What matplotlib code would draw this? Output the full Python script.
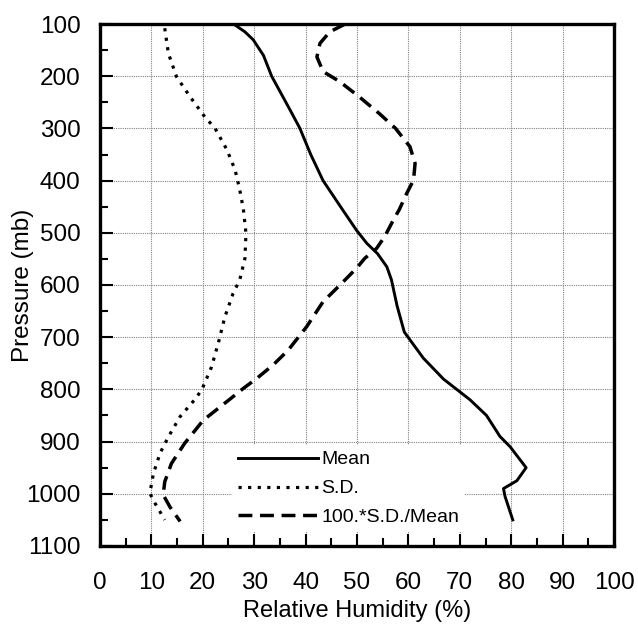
import numpy as np
import matplotlib
matplotlib.use("Agg")
import matplotlib.pyplot as plt
from matplotlib.ticker import MultipleLocator

plt.rcParams['font.family'] = ['Liberation Sans', 'DejaVu Sans']

# Mean relative humidity profile (pressure in mb, RH in %)
mean_p = [100, 115, 130, 160, 200, 265, 300, 350, 400, 450, 495, 520, 540, 565, 590,
          640, 690, 705, 740, 780, 820, 850, 890, 910, 950, 975, 990, 1005, 1050]
mean_rh = [26.0, 28.2, 29.8, 31.8, 33.4, 37.0, 38.9, 41.0, 43.4, 46.8, 49.9, 51.9, 54.0, 55.8, 56.7,
           57.8, 59.2, 60.3, 62.9, 66.8, 72.0, 75.2, 77.8, 79.8, 82.9, 81.1, 78.5, 78.8, 80.3]

# standard deviation
sd_p = [108, 156, 201, 239, 278, 300, 341, 380, 418, 455, 501, 549, 590, 616,
        661, 712, 757, 801, 820, 852, 891, 922, 961, 999, 1018, 1050]
sd_rh = [12.6, 13.3, 14.9, 17.5, 20.4, 22.4, 24.7, 26.3, 27.2, 27.9, 28.4, 28.2, 27.2, 25.9,
         24.3, 23.0, 21.7, 19.8, 18.4, 15.6, 13.3, 11.7, 10.4, 9.7, 10.7, 12.6]

# 100*S.D./Mean
cv_p = [100, 115, 137, 163, 191, 210, 240, 272, 300, 335, 367, 399, 424, 456,
        475, 507, 530, 549, 568, 600, 632, 680, 700, 725, 753, 779, 798, 817, 859,
        903, 942, 977, 1002, 1025, 1053]
cv_rh = [47.7, 44.7, 42.8, 42.2, 43.4, 46.6, 50.5, 54.4, 57.5, 60.3, 61.3, 61.0, 59.7, 58.2,
         57.1, 55.4, 53.8, 51.5, 49.9, 46.7, 43.4, 40.2, 38.6, 36.6, 33.7, 30.5, 27.9, 25.5, 20.1,
         16.5, 13.9, 12.6, 12.3, 13.6, 15.6]

fig = plt.figure(figsize=(6.38, 6.29), dpi=100)
ax = fig.add_axes([0.1567, 0.132, 0.8057, 0.8298])

ax.plot(mean_rh, mean_p, color='black', lw=2.1, ls='-', label='Mean', zorder=3)
ax.plot(sd_rh, sd_p, color='black', lw=2.3, ls=(0, (1.0, 2.0)), label='S.D.', zorder=3)
ax.plot(cv_rh, cv_p, color='black', lw=2.5, ls=(0, (4.0, 2.2)), label='100.*S.D./Mean', zorder=3)

ax.set_xlim(0, 100)
ax.set_ylim(1100, 100)
ax.xaxis.set_major_locator(MultipleLocator(10))
ax.xaxis.set_minor_locator(MultipleLocator(5))
ax.yaxis.set_major_locator(MultipleLocator(100))
ax.yaxis.set_minor_locator(MultipleLocator(50))

ax.grid(True, which='major', color='0.5', lw=0.8, ls=(0, (1, 1)), zorder=1)
ax.tick_params(which='both', direction='in', top=False, right=False, width=1.5, color='black')
ax.tick_params(which='major', length=9, labelsize=17.5)
ax.tick_params(which='minor', length=6)
ax.tick_params(axis='x', which='major', pad=19)
ax.tick_params(axis='y', which='major', pad=14)

for s in ax.spines.values():
    s.set_linewidth(2.4)

ax.set_xlabel('Relative Humidity (%)', fontsize=17, labelpad=4)
ax.set_ylabel('Pressure (mb)', fontsize=17.5)
ax.yaxis.set_label_coords(-0.128, 0.5)

leg = ax.legend(loc='upper left', bbox_to_anchor=(0.257, 0.1935), fontsize=14,
                frameon=True, framealpha=1, facecolor='white', edgecolor='none',
                fancybox=False, handlelength=4.1, handletextpad=0.2, labelspacing=0.58,
                borderpad=0.3, borderaxespad=0)
leg.set_zorder(2)

fig.savefig('out.png', dpi=100)
